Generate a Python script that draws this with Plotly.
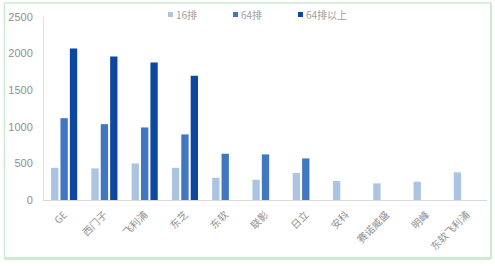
import plotly.graph_objects as go

categories = ["GE", "西门子", "飞利浦", "东芝", "东软", "联影", "日立", "安科", "赛诺威盛", "明峰", "东软飞利浦"]
series_names = ["16排", "64排", "64排以上"]
v16 = [440, 432, 500, 440, 304, 277, 368, 259, 227, 250, 378]
v64 = [1118, 1036, 991, 896, 632, 623, 568, None, None, None, None]
v64p = [2069, 1960, 1878, 1696, None, None, None, None, None, None, None]
y_ticks = [0, 500, 1000, 1500, 2000, 2500]

colors = ["#abc4e1", "#4176c0", "#0e47a0"]

fig = go.Figure()
for name, vals, c in zip(series_names, [v16, v64, v64p], colors):
    fig.add_trace(go.Bar(name=name, x=categories, y=vals, marker_color=c,
                         marker_line_width=0, showlegend=False))

W, H = 495, 266
L, R, T, B = 44, 8, 17, 66
pw, ph = W - L - R, H - T - B

def px(x):
    return (x - L) / pw

def py(y):
    return (H - B - y) / ph

shapes = [
    dict(type="rect", xref="paper", yref="paper",
         x0=px(4.5), x1=px(491), y0=py(258), y1=py(3),
         line=dict(color="#c9ebcf", width=1.5), layer="below"),
    dict(type="line", xref="paper", yref="paper",
         x0=px(4.5), x1=px(491), y0=py(258.5), y1=py(258.5),
         line=dict(color="#c9ebcf", width=3)),
    dict(type="line", xref="paper", yref="paper",
         x0=px(491), x1=px(491), y0=py(258.5), y1=py(3),
         line=dict(color="#c9ebcf", width=2)),
]
annotations = []
legend_x = [168, 233, 298]
for lx, name, c in zip(legend_x, series_names, colors):
    shapes.append(dict(type="rect", xref="paper", yref="paper",
                       x0=px(lx), x1=px(lx + 5), y0=py(17), y1=py(12),
                       fillcolor=c, line=dict(width=0)))
    annotations.append(dict(xref="paper", yref="paper", x=px(lx + 6), y=py(14.5),
                            xanchor="left", yanchor="middle", text=name, showarrow=False,
                            font=dict(size=10, color="#a0a0a0")))

fig.update_layout(
    width=W, height=H,
    margin=dict(l=L, r=R, t=T, b=B),
    paper_bgcolor="white", plot_bgcolor="white",
    barmode="group", bargap=0.3, bargroupgap=0.22,
    font=dict(family="Noto Sans CJK SC, Noto Sans, sans-serif", color="#888888", size=10),
    showlegend=False,
    xaxis=dict(tickangle=-45, showline=True, linecolor="#d9d9d9", linewidth=1,
               ticks="", showgrid=False, ticklabelstandoff=4,
               tickfont=dict(size=10, color="#909090")),
    yaxis=dict(range=[0, 2500], tickvals=y_ticks, showline=True, linecolor="#e0e0e0",
               linewidth=1, showgrid=False, ticks="", zeroline=False, ticklabelstandoff=8,
               tickfont=dict(size=11, color="#909090", family="Liberation Sans, Arial")),
    shapes=shapes,
    annotations=annotations,
)

fig.write_html("out.html")
